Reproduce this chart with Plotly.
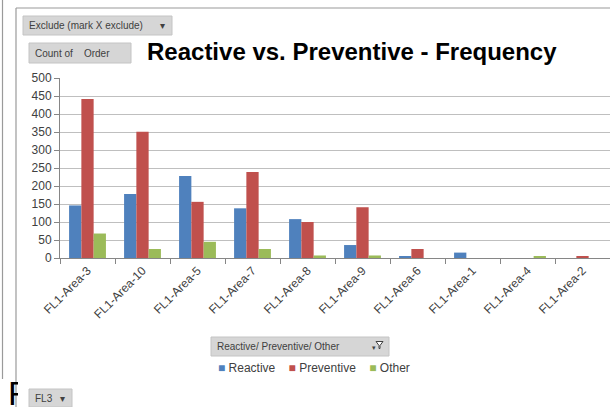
import plotly.graph_objects as go

# Order counts per area, split by maintenance type
categories = ["FL1-Area-3", "FL1-Area-10", "FL1-Area-5", "FL1-Area-7", "FL1-Area-8",
              "FL1-Area-9", "FL1-Area-6", "FL1-Area-1", "FL1-Area-4", "FL1-Area-2"]
reactive = [146, 178, 228, 138, 108, 36, 3, 15, 0, 0]
preventive = [442, 351, 156, 239, 100, 141, 25, 0, 0, 4]
other = [68, 25, 45, 25, 7, 7, 0, 0, 4, 0]

series_names = ["Reactive", "Preventive", "Other"]
series_colors = ["#4F81BD", "#C0504D", "#9BBB59"]

W, H = 610, 407
ML, MR, MT, MB = 60, 0, 78, 149
PW, PH = W - ML - MR, H - MT - MB


def px(x):
    return (x - ML) / PW


def py(y):
    return (H - MB - y) / PH


fig = go.Figure()
for name, vals, col in zip(series_names, [reactive, preventive, other], series_colors):
    fig.add_trace(go.Bar(name=name, x=categories, y=vals, marker=dict(color=col, line=dict(width=0)),
                         showlegend=False))

AX_COL = "#868686"
FONT = "Liberation Sans, Arial, sans-serif"
NARROW = "Liberation Sans Narrow, Arial Narrow, sans-serif"

shapes = []
annotations = []

# sheet text partly hidden behind the chart frame (clipped by the fixed box width)
annotations.append(dict(xref="paper", yref="paper", x=px(6), y=py(393), text="R", showarrow=False,
                        xanchor="left", yanchor="middle", width=10, align="left",
                        font=dict(family=NARROW, size=34, color="#000000")))

# pivot-table frame lines
shapes.append(dict(type="line", xref="paper", yref="paper", x0=px(16), x1=px(610), y0=py(8), y1=py(8),
                   line=dict(color="#9a9a9a", width=1.2)))
shapes.append(dict(type="line", xref="paper", yref="paper", x0=px(16), x1=px(16), y0=py(8), y1=py(407),
                   line=dict(color="#9a9a9a", width=1.2)))
shapes.append(dict(type="line", xref="paper", yref="paper", x0=px(2.5), x1=px(2.5), y0=py(0), y1=py(379),
                   line=dict(color="#9a9a9a", width=1.2)))


def button(x0, y0, x1, y1, text, arrow=None, fs=10):
    shapes.append(dict(type="rect", xref="paper", yref="paper", x0=px(x0), x1=px(x1), y0=py(y0), y1=py(y1),
                       fillcolor="#d6d6d6", line=dict(color="#c4c4c4", width=1), layer="above"))
    annotations.append(dict(xref="paper", yref="paper", x=px(x0 + 4), y=py((y0 + y1) / 2), text=text,
                            showarrow=False, xanchor="left", yanchor="middle",
                            font=dict(family=NARROW, size=fs, color="#404040")))
    if arrow == "down":
        annotations.append(dict(xref="paper", yref="paper", x=px(x1 - 10), y=py((y0 + y1) / 2), text="▾",
                                showarrow=False, xanchor="center", yanchor="middle",
                                font=dict(family="DejaVu Sans", size=10, color="#404040")))
    elif arrow == "filter":
        cx, cy = x1 - 10, (y0 + y1) / 2 - 1
        path = (f"M {px(cx-3)},{py(cy-4)} L {px(cx+4)},{py(cy-4)} L {px(cx+1)},{py(cy)} "
                f"L {px(cx+1)},{py(cy+3)} L {px(cx)},{py(cy+3)} L {px(cx)},{py(cy)} Z")
        shapes.append(dict(type="path", xref="paper", yref="paper", path=path,
                           fillcolor="#ffffff", line=dict(color="#404040", width=1), layer="above"))
        annotations.append(dict(xref="paper", yref="paper", x=px(cx - 5), y=py(cy + 2), text="▾",
                                showarrow=False, xanchor="center", yanchor="middle",
                                font=dict(family="DejaVu Sans", size=7, color="#404040")))


button(23, 16, 172, 35, "Exclude (mark X exclude)", arrow="down")
button(29, 43, 131, 63, "Count of &nbsp;&nbsp; Order")
button(211, 337, 389, 356, "Reactive/ Preventive/ Other", arrow="filter")
button(29, 389, 72, 407, "FL3", arrow="down")

# chart title
annotations.append(dict(xref="paper", yref="paper", x=px(352), y=py(51),
                        text="<b>Reactive vs. Preventive - Frequency</b>", showarrow=False,
                        xanchor="center", yanchor="middle",
                        font=dict(family=NARROW, size=24, color="#000000")))

# series key below the chart
key_parts = [f"<span style='color:{c}'>■</span>&nbsp;{n}" for n, c in zip(series_names, series_colors)]
annotations.append(dict(xref="paper", yref="paper", x=px(314), y=py(368),
                        text="&nbsp;&nbsp;&nbsp;&nbsp;".join(key_parts), showarrow=False,
                        xanchor="center", yanchor="middle",
                        font=dict(family=FONT, size=12, color="#404040")))

fig.update_layout(
    width=W, height=H,
    margin=dict(l=ML, r=MR, t=MT, b=MB, pad=0),
    paper_bgcolor="white", plot_bgcolor="white",
    barmode="group", bargap=0.33, bargroupgap=0,
    font=dict(family=FONT, size=12, color="#404040"),
    shapes=shapes, annotations=annotations,
    showlegend=False,
)
fig.update_xaxes(type="category", showline=True, linecolor=AX_COL, linewidth=1,
                 ticks="outside", tickson="boundaries", ticklen=5, tickcolor=AX_COL,
                 tickangle=-45, tickfont=dict(size=12, color="#404040"), showgrid=False,
                 fixedrange=True)
fig.update_yaxes(range=[0, 500], dtick=50, showline=True, linecolor=AX_COL, linewidth=1,
                 ticks="outside", ticklen=5, tickcolor=AX_COL, showgrid=True, gridcolor="#bfbfbf",
                 gridwidth=1, tickfont=dict(size=12, color="#404040"), zeroline=False, fixedrange=True)

fig.write_html("out.html")
